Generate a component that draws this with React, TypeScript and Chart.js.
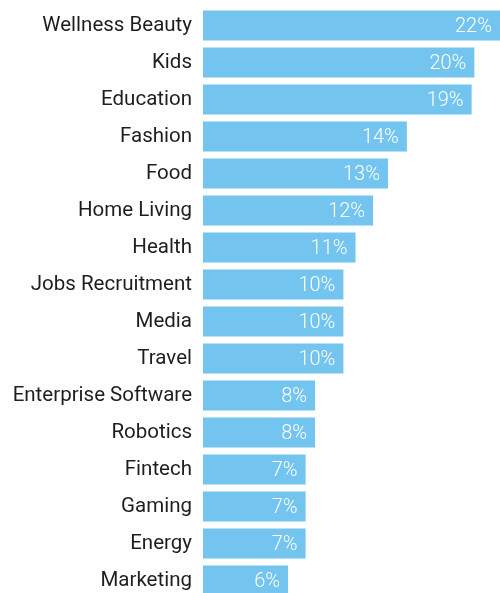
import React, { useEffect, useRef } from "react";
import { Chart, registerables } from "chart.js";

Chart.register(...registerables);

const categories = [
  "Wellness Beauty",
  "Kids",
  "Education",
  "Fashion",
  "Food",
  "Home Living",
  "Health",
  "Jobs Recruitment",
  "Media",
  "Travel",
  "Enterprise Software",
  "Robotics",
  "Fintech",
  "Gaming",
  "Energy",
  "Marketing",
];

// bar lengths (percent)
const values = [22.0, 20.1, 19.9, 15.1, 13.7, 12.6, 11.3, 10.4, 10.4, 10.4, 8.3, 8.3, 7.6, 7.6, 7.6, 6.3];

// labels printed on the bars
const valueLabels = ["22%", "20%", "19%", "14%", "13%", "12%", "11%", "10%", "10%", "10%", "8%", "8%", "7%", "7%", "7%", "6%"];

const BAR_COLOR = "#73c4ef";
const FONT = "Roboto, 'Noto Sans', sans-serif";

const barLabelPlugin = {
  id: "barLabels",
  afterDatasetsDraw(chart: any) {
    const ctx = chart.ctx;
    const meta = chart.getDatasetMeta(0);
    ctx.save();
    ctx.fillStyle = "#ffffff";
    ctx.font = `300 20px ${FONT}`;
    ctx.textAlign = "right";
    ctx.textBaseline = "middle";
    meta.data.forEach((bar: any, i: number) => {
      ctx.fillText(valueLabels[i], bar.x - 8, bar.y + 1);
    });
    ctx.restore();
  },
};

export default function App() {
  const ref = useRef<HTMLCanvasElement | null>(null);

  useEffect(() => {
    document.body.style.margin = "0";
    const chart = new Chart(ref.current!, {
      type: "bar",
      data: {
        labels: categories,
        datasets: [
          {
            data: values,
            backgroundColor: BAR_COLOR,
            borderWidth: 0,
            categoryPercentage: 1,
            barPercentage: 0.81,
          },
        ],
      },
      options: {
        indexAxis: "y",
        animation: false,
        responsive: true,
        maintainAspectRatio: false,
        layout: { padding: { top: 7, bottom: 1, left: 0, right: 0 } },
        plugins: {
          legend: { display: false },
          tooltip: { enabled: false },
        },
        scales: {
          x: {
            display: false,
            min: 0,
            max: 22,
          },
          y: {
            grid: { display: false, drawTicks: false },
            border: { display: false },
            ticks: {
              color: "#1e1e1e",
              padding: 11,
              font: { family: FONT, size: 20.5, weight: "400" as any },
            },
            afterFit(scale: any) {
              scale.width = 203;
              scale.paddingTop = 0;
              scale.paddingBottom = 0;
            },
          },
        },
      },
      plugins: [barLabelPlugin],
    });
    return () => chart.destroy();
  }, []);

  return (
    <div style={{ width: 500, height: 593, overflow: "hidden", position: "relative" }}>
      <div style={{ width: 500, height: 600, position: "absolute", top: 0, left: 0 }}>
        <canvas ref={ref} />
      </div>
    </div>
  );
}
